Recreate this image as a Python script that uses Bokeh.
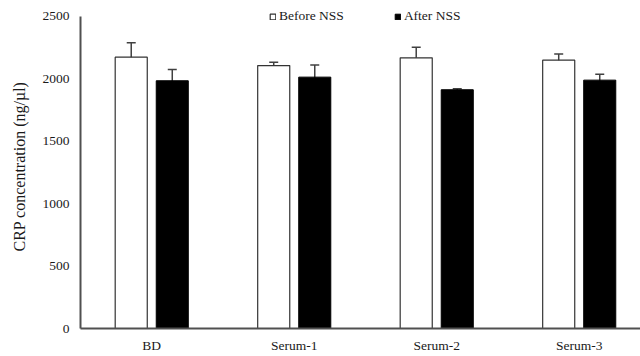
from bokeh.plotting import figure
from bokeh.models import ColumnDataSource, Whisker, TeeHead, FixedTicker, Range1d, Legend, LegendItem
from bokeh.embed import file_html
from bokeh.resources import INLINE

categories = ["BD", "Serum-1", "Serum-2", "Serum-3"]
before = [2174, 2107, 2169, 2150]
before_err = [115, 27, 85, 50]
after = [1985, 2014, 1913, 1990]
after_err = [90, 97, 8, 48]
y_ticks = [0, 500, 1000, 1500, 2000, 2500]

FONT = "Liberation Serif"
TXT = "#1a1a1a"
AX = "#505050"

idx = list(range(len(categories)))
off = 0.144
bw = 0.225

src_b = ColumnDataSource(dict(
    x=[i - off for i in idx], top=before,
    upper=[v + e for v, e in zip(before, before_err)],
    lower=[v - e for v, e in zip(before, before_err)]))
src_a = ColumnDataSource(dict(
    x=[i + off for i in idx], top=after,
    upper=[v + e for v, e in zip(after, after_err)],
    lower=[v - e for v, e in zip(after, after_err)]))

# frame extends 12px above the 2500 tick so the legend is not clipped
p = figure(width=640, height=356, output_backend="svg", toolbar_location=None,
           x_range=Range1d(-0.5, 3.43), y_range=Range1d(0, 2596),
           min_border_left=80, min_border_right=0, min_border_top=4, min_border_bottom=28)
p.outline_line_color = None
p.xgrid.grid_line_color = None
p.ygrid.grid_line_color = None

rb = p.vbar(x="x", top="top", width=bw, bottom=0, source=src_b,
            fill_color="white", line_color="#333333", line_width=1.2)
ra = p.vbar(x="x", top="top", width=bw, bottom=0, source=src_a,
            fill_color="black", line_color="black", line_width=1)

for s in (src_b, src_a):
    w = Whisker(base="x", upper="upper", lower="lower", source=s,
                line_color="#404040", line_width=1.5,
                upper_head=TeeHead(size=9, line_color="#404040", line_width=1.5),
                lower_head=TeeHead(size=9, line_color="#404040", line_width=1.5))
    p.add_layout(w)

p.xaxis.ticker = FixedTicker(ticks=idx)
p.xaxis.major_label_overrides = {i: c for i, c in zip(idx, categories)}
p.yaxis.ticker = FixedTicker(ticks=y_ticks)
p.yaxis.bounds = (y_ticks[0], y_ticks[-1])
for ax in (p.xaxis[0], p.yaxis[0]):
    ax.axis_line_color = AX
    ax.axis_line_width = 2
    ax.major_tick_line_color = None
    ax.minor_tick_line_color = None
    ax.major_tick_out = 0
    ax.major_tick_in = 0
    ax.major_label_text_font = FONT
    ax.major_label_text_font_size = "13.5px"
    ax.major_label_text_color = TXT
p.xaxis.major_label_standoff = 9
p.yaxis.major_label_standoff = 11
p.yaxis.axis_label = "CRP concentration (ng/\u00b5l)"
p.yaxis.axis_label_text_font = FONT
p.yaxis.axis_label_text_font_size = "16px"
p.yaxis.axis_label_text_font_style = "normal"
p.yaxis.axis_label_text_color = TXT
p.yaxis.axis_label_standoff = 12

legend = Legend(items=[LegendItem(label="Before NSS", renderers=[rb]),
                       LegendItem(label="After NSS", renderers=[ra])],
                location=(189, 304), orientation="horizontal",
                label_text_font=FONT, label_text_font_size="13.5px", label_text_color=TXT,
                glyph_width=7, glyph_height=7, label_standoff=3, spacing=50,
                padding=0, margin=0, border_line_color=None, background_fill_alpha=0,
                label_height=14)
p.add_layout(legend)

open("out.html", "w").write(file_html(p, INLINE))
